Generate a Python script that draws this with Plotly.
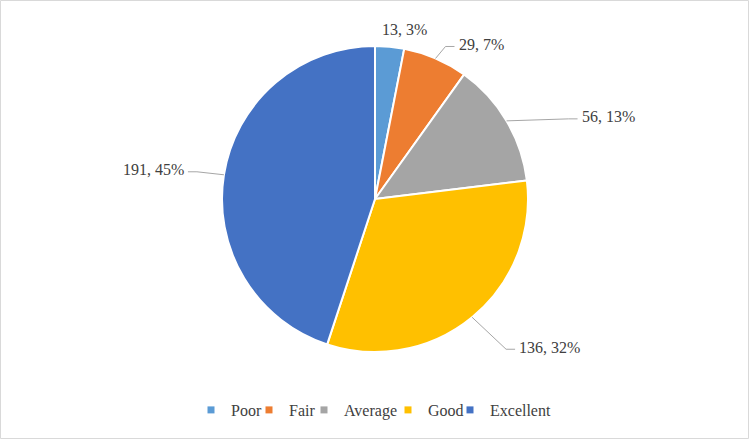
import math
import plotly.graph_objects as go

# ---- data ----
categories = ["Poor", "Fair", "Average", "Good", "Excellent"]
counts = [13, 29, 56, 136, 191]

# ---- style ----
colors = ["#5B9BD5", "#ED7D31", "#A5A5A5", "#FFC000", "#4472C4"]
W, H = 750, 440
CX, CY, R = 375, 199, 153          # pie centre / radius in px
FONT = "Liberation Serif"
TXT = "#404040"
# label nudges (px) from the slice's outer mid-point
label_dx = [15, 21, 73, 45, -38]
label_dy = [-17, -14, -4, 30, -5]
label_anchor = ["center", "left", "left", "left", "right"]
leader = [False, True, True, True, True]
# legend swatch centres (px) along the bottom row
legend_marker_x = [215, 273, 328, 412, 474]
LEGEND_Y = 410


def px(x):
    return x / W


def py(y):
    return 1 - y / H


total = sum(counts)
fig = go.Figure()
fig.add_trace(go.Pie(
    labels=categories, values=counts, sort=False, direction="clockwise",
    rotation=0, marker=dict(colors=colors, line=dict(color="white", width=2)),
    textinfo="none", showlegend=False, hoverinfo="label+value+percent",
    domain=dict(x=[px(CX - R), px(CX + R)], y=[py(CY + R), py(CY - R)]),
))

# legend: one small legend per category (marker-only dummy traces)
legend_layouts = {}
for i, (c, col) in enumerate(zip(categories, colors)):
    key = "legend" if i == 0 else f"legend{i + 1}"
    fig.add_trace(go.Scatter(x=[None], y=[None], mode="markers", name=c,
                             legend=key, showlegend=True,
                             marker=dict(symbol="square", size=7, color=col)))
    legend_layouts[key] = dict(
        orientation="h", x=px(legend_marker_x[i] - 24), xanchor="left",
        y=py(LEGEND_Y), yanchor="middle",
        font=dict(family=FONT, size=16, color=TXT),
        bgcolor="rgba(0,0,0,0)", itemwidth=30, borderwidth=0)

annotations = []
shapes = []
cum = 0
for i, v in enumerate(counts):
    mid = (cum + v / 2) / total * 2 * math.pi
    cum += v
    ex = CX + R * math.sin(mid)
    ey = CY - R * math.cos(mid)
    lx = ex + label_dx[i]
    ly = ey + label_dy[i]
    pct = round(100 * v / total)
    annotations.append(dict(
        x=px(lx), y=py(ly), xref="paper", yref="paper", showarrow=False,
        text=f"{v}, {pct}%", xanchor=label_anchor[i], yanchor="middle",
        font=dict(family=FONT, size=16, color=TXT)))
    if leader[i]:
        s = 1 if label_anchor[i] == "left" else -1
        endx, endy = lx - 2 * s, ly + 2
        elx, ely = lx - 11 * s, ly + 2
        for (x0, y0, x1, y1) in [(ex, ey, elx, ely), (elx, ely, endx, endy)]:
            shapes.append(dict(type="line", xref="paper", yref="paper",
                               x0=px(x0), y0=py(y0), x1=px(x1), y1=py(y1),
                               line=dict(color="#A6A6A6", width=1)))

# chart border
shapes.append(dict(type="rect", xref="paper", yref="paper",
                   x0=px(0.5), y0=py(438.5), x1=px(748.5), y1=py(0.5),
                   line=dict(color="#D9D9D9", width=1)))

fig.update_layout(
    width=W, height=H, margin=dict(l=0, r=0, t=0, b=0),
    paper_bgcolor="white", plot_bgcolor="white", showlegend=True,
    xaxis=dict(visible=False), yaxis=dict(visible=False),
    annotations=annotations, shapes=shapes,
    font=dict(family=FONT),
    **legend_layouts,
)

fig.write_html("out.html")
